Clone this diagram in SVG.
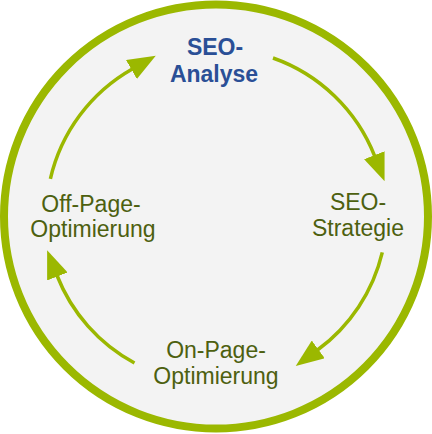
<svg xmlns="http://www.w3.org/2000/svg" width="432" height="434" viewBox="0 0 432 434">
<style>
.ring{fill:#f3f3f3;stroke:#9bb800;stroke-width:8}
.arc{fill:none;stroke:#9bb800;stroke-width:3.5}
.lbl{font-family:"Liberation Sans",Arial,sans-serif;font-size:23px;fill:#4d600f;text-anchor:middle}
.hl{font-weight:bold;fill:#2a4f96}
</style>
<defs>
<marker id="ah" markerUnits="userSpaceOnUse" viewBox="0 0 28 22" markerWidth="28" markerHeight="22" refX="1" refY="11" orient="auto">
<path d="M0,0 L28,11 L0,22 z" fill="#9bb800"/>
</marker>
</defs>
<rect width="432" height="434" fill="#ffffff"/>
<circle class="ring" cx="216" cy="216.5" r="212"/>
<g id="connectors">
<path class="arc" d="M50.4,178.8 A170,170 0 0 1 132.3,69.0" marker-end="url(#ah)"/>
<path class="arc" d="M273,58 A170,170 0 0 1 374.7,156.1" marker-end="url(#ah)"/>
<path class="arc" d="M382.3,252.3 A170,170 0 0 1 317.5,350" marker-end="url(#ah)"/>
<path class="arc" d="M134.5,363 A170,170 0 0 1 57,275.5" marker-end="url(#ah)"/>
</g>
<g id="seo-analyse"><text class="lbl hl" x="215" y="55">SEO-</text><text class="lbl hl" x="214" y="81.5">Analyse</text></g>
<g id="seo-strategie"><text class="lbl" x="358" y="210">SEO-</text><text class="lbl" x="358" y="236">Strategie</text></g>
<g id="on-page"><text class="lbl" x="216" y="358">On-Page-</text><text class="lbl" x="216" y="383.5">Optimierung</text></g>
<g id="off-page"><text class="lbl" x="91" y="211.5">Off-Page-</text><text class="lbl" x="93" y="237">Optimierung</text></g>
</svg>
